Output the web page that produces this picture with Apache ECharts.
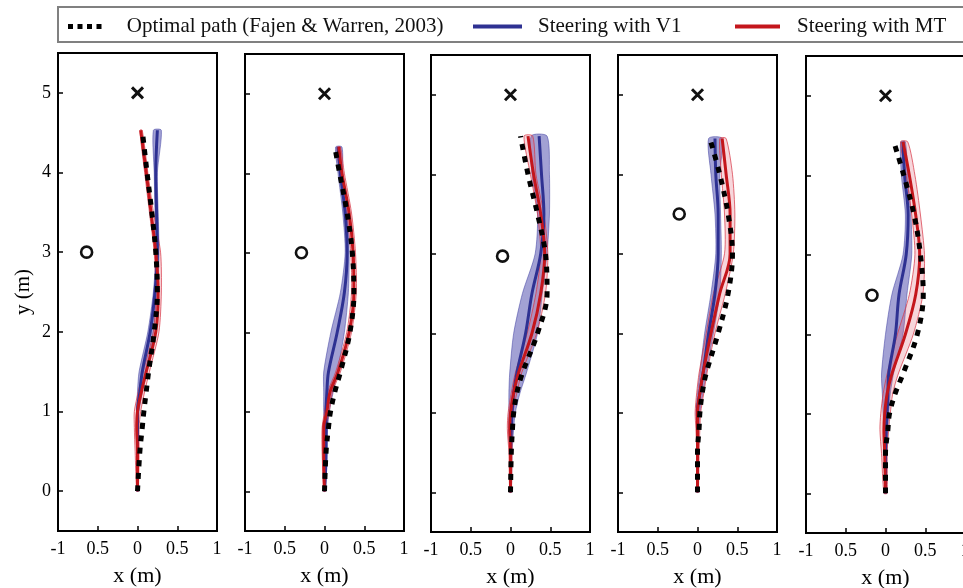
<!DOCTYPE html>
<html>
<head>
<meta charset="utf-8">
<title>Steering trajectories</title>
<script src="https://cdn.jsdelivr.net/npm/echarts@6/dist/echarts.min.js"></script>
<style>
  html, body { margin: 0; padding: 0; background: #fff; }
  #chart { width: 963px; height: 588px; }
</style>
</head>
<body>
<div id="chart"></div>
<script>
// y samples along each trajectory (one row per panel)
const trajY = [
  [0, 0.5, 0.8, 1.0, 1.25, 1.5, 2.0, 2.5, 3.0, 3.5, 4.0, 4.53],
  [0, 0.5, 0.8, 1.0, 1.25, 1.5, 2.0, 2.5, 3.0, 3.5, 4.0, 4.33],
  [0, 0.5, 0.8, 1.0, 1.25, 1.5, 2.0, 2.5, 3.0, 3.5, 4.0, 4.48],
  [0, 0.5, 0.8, 1.0, 1.25, 1.5, 2.0, 2.5, 3.0, 3.5, 4.0, 4.45],
  [0, 0.5, 0.8, 1.0, 1.25, 1.5, 2.0, 2.5, 3.0, 3.5, 4.0, 4.42]
];

const optimalX = [
  [0, 0.03, 0.06, 0.08, 0.11, 0.14, 0.21, 0.25, 0.23, 0.18, 0.12, 0.06],
  [0, 0.02, 0.05, 0.075, 0.13, 0.2, 0.32, 0.37, 0.35, 0.285, 0.19, 0.13],
  [0, 0.01, 0.025, 0.04, 0.08, 0.15, 0.34, 0.46, 0.44, 0.34, 0.22, 0.126],
  [0, 0.0, 0.02, 0.03, 0.06, 0.11, 0.26, 0.385, 0.44, 0.385, 0.28, 0.155],
  [0, 0.0, 0.03, 0.05, 0.12, 0.22, 0.40, 0.475, 0.44, 0.36, 0.23, 0.105]
];

const v1Mean = [
  [0, 0.0, 0.0, 0.0, 0.03, 0.06, 0.16, 0.22, 0.25, 0.24, 0.23, 0.25],
  [0, 0.02, 0.02, 0.02, 0.03, 0.05, 0.16, 0.25, 0.285, 0.26, 0.2, 0.17],
  [0, 0.0, 0.01, 0.02, 0.04, 0.08, 0.19, 0.27, 0.38, 0.42, 0.39, 0.36],
  [0, 0.0, 0.0, 0.0, 0.03, 0.07, 0.14, 0.22, 0.26, 0.26, 0.23, 0.22],
  [0, 0.0, 0.01, 0.02, 0.03, 0.04, 0.125, 0.17, 0.26, 0.285, 0.24, 0.22]
];
const v1Lo = [
  [-0.01, -0.01, -0.01, -0.01, 0.0, 0.02, 0.13, 0.2, 0.23, 0.22, 0.21, 0.2],
  [-0.01, 0.0, 0.0, -0.01, -0.01, -0.01, 0.08, 0.2, 0.26, 0.23, 0.17, 0.14],
  [-0.01, -0.01, -0.02, -0.02, -0.02, -0.01, 0.04, 0.15, 0.31, 0.34, 0.27, 0.26],
  [-0.01, -0.01, -0.01, -0.02, 0.0, 0.03, 0.09, 0.17, 0.23, 0.22, 0.17, 0.14],
  [-0.01, -0.01, -0.02, -0.03, -0.04, -0.05, 0.0, 0.08, 0.22, 0.25, 0.2, 0.19]
];
const v1Hi = [
  [0.01, 0.01, 0.01, 0.02, 0.06, 0.12, 0.2, 0.25, 0.27, 0.26, 0.25, 0.3],
  [0.01, 0.03, 0.04, 0.06, 0.11, 0.16, 0.25, 0.3, 0.31, 0.29, 0.23, 0.22],
  [0.01, 0.02, 0.04, 0.06, 0.12, 0.2, 0.34, 0.4, 0.46, 0.49, 0.49, 0.46],
  [0.01, 0.01, 0.02, 0.03, 0.07, 0.11, 0.2, 0.28, 0.3, 0.29, 0.28, 0.31],
  [0.01, 0.02, 0.03, 0.04, 0.06, 0.1, 0.22, 0.27, 0.33, 0.32, 0.28, 0.25]
];

const mtMean = [
  [0, 0.0, -0.01, 0.0, 0.05, 0.11, 0.23, 0.26, 0.23, 0.17, 0.11, 0.04],
  [0, -0.01, -0.01, 0.03, 0.07, 0.17, 0.31, 0.37, 0.36, 0.31, 0.22, 0.18],
  [0, 0.0, -0.01, 0.0, 0.04, 0.10, 0.27, 0.38, 0.43, 0.38, 0.29, 0.22],
  [0, 0.0, 0.0, 0.0, 0.03, 0.07, 0.17, 0.28, 0.41, 0.41, 0.36, 0.31],
  [0, -0.01, -0.02, -0.01, 0.02, 0.08, 0.25, 0.38, 0.43, 0.38, 0.30, 0.22]
];
const mtLo = [
  [-0.01, -0.03, -0.04, -0.04, 0.01, 0.07, 0.2, 0.23, 0.21, 0.15, 0.09, 0.03],
  [-0.01, -0.03, -0.03, 0.0, 0.04, 0.14, 0.28, 0.34, 0.33, 0.28, 0.19, 0.16],
  [-0.01, -0.02, -0.04, -0.03, 0.01, 0.06, 0.21, 0.32, 0.38, 0.34, 0.25, 0.17],
  [-0.01, -0.01, -0.02, -0.03, -0.01, 0.02, 0.11, 0.2, 0.34, 0.34, 0.3, 0.28],
  [-0.02, -0.05, -0.07, -0.06, -0.03, 0.02, 0.15, 0.3, 0.37, 0.33, 0.26, 0.19]
];
const mtHi = [
  [0.01, 0.02, 0.02, 0.04, 0.09, 0.15, 0.27, 0.3, 0.29, 0.2, 0.13, 0.06],
  [0.01, 0.02, 0.02, 0.06, 0.1, 0.2, 0.34, 0.4, 0.39, 0.34, 0.25, 0.2],
  [0.01, 0.02, 0.02, 0.03, 0.08, 0.14, 0.33, 0.44, 0.47, 0.42, 0.32, 0.28],
  [0.01, 0.02, 0.03, 0.04, 0.08, 0.12, 0.22, 0.35, 0.45, 0.47, 0.44, 0.36],
  [0.02, 0.02, 0.04, 0.06, 0.09, 0.16, 0.35, 0.47, 0.49, 0.44, 0.37, 0.28]
];

// obstacle (circle) and goal (cross) per panel
const obstacleX = [-0.64, -0.29, -0.10, -0.23, -0.17];
const obstacleY = [3.0, 3.0, 2.97, 3.5, 2.49];
const goalX = [0, 0, 0, 0, 0];
const goalY = [5, 5, 5, 5, 5];

const xTickValues = [-1, -0.5, 0, 0.5, 1];
const xTickLabels = ['-1', '0.5', '0', '0.5', '1'];
const yTickValues = [0, 1, 2, 3, 4, 5];

const legendNames = ['Optimal path (Fajen & Warren, 2003)', 'Steering with V1', 'Steering with MT'];

const panelLeft = [58, 245, 431, 618, 806];
const panelTop = [53, 54, 55, 55, 56];
const panelHeight = [478, 477, 477, 477, 477];

const serif = 'Liberation Serif';
const blue = '#2e3192';
const red = '#c4161c';

const chart = echarts.init(document.getElementById('chart'));

function pathSeries(p, xs, name, color, width, type, z) {
  return {
    type: 'line', name: name, xAxisIndex: p, yAxisIndex: p,
    data: xs.map((x, i) => [x, trajY[p][i]]),
    symbol: 'none', smooth: 0.35, silent: true, z: z,
    lineStyle: { color: color, width: width, type: type, cap: 'butt' },
    itemStyle: { color: color }
  };
}

function bandSeries(p, lo, hi, fill, edge, z) {
  const pts = [];
  for (let i = 0; i < lo.length; i++) pts.push([lo[i], trajY[p][i]]);
  for (let i = hi.length - 1; i >= 0; i--) pts.push([hi[i], trajY[p][i]]);
  return {
    type: 'custom', xAxisIndex: p, yAxisIndex: p, data: pts, silent: true, z: z,
    renderItem: function (params, api) {
      if (params.dataIndex !== 0) return null;
      const points = [];
      for (let i = 0; i < params.dataInsideLength; i++) {
        points.push(api.coord([api.value(0, i), api.value(1, i)]));
      }
      return {
        type: 'polygon',
        shape: { points: points, smooth: 0.25 },
        style: { fill: fill, stroke: edge, lineWidth: 1 }
      };
    }
  };
}

const grids = [], xAxes = [], yAxes = [], series = [];
for (let p = 0; p < 5; p++) {
  grids.push({
    left: panelLeft[p], top: panelTop[p], width: 159, height: panelHeight[p],
    outerBoundsMode: 'none', containLabel: false,
    show: true, borderColor: '#000', borderWidth: 2, backgroundColor: 'transparent'
  });
  xAxes.push({
    gridIndex: p, type: 'value', min: -1, max: 1, interval: 0.5,
    name: 'x (m)', nameLocation: 'middle', nameGap: 34,
    nameTextStyle: { fontFamily: serif, fontSize: 22, color: '#000' },
    axisLine: { show: true, onZero: false, lineStyle: { color: '#000', width: 2 } },
    axisTick: { show: true, inside: true, length: 5, lineStyle: { color: '#000', width: 1.5 } },
    axisLabel: {
      fontFamily: serif, fontSize: 18, color: '#000', margin: 9,
      showMinLabel: true, showMaxLabel: true,
      formatter: function (v) {
        const i = xTickValues.findIndex(t => Math.abs(t - v) < 1e-9);
        return i < 0 ? '' : xTickLabels[i];
      }
    },
    splitLine: { show: false }
  });
  yAxes.push({
    gridIndex: p, type: 'value', min: -0.5, max: 5.5,
    name: p === 0 ? 'y (m)' : '', nameLocation: 'middle', nameGap: 24, nameRotate: 90,
    nameTextStyle: { fontFamily: serif, fontSize: 21, color: '#000' },
    axisLine: { show: true, onZero: false, lineStyle: { color: '#000', width: 2 } },
    axisTick: { show: true, inside: true, length: 5, customValues: yTickValues, lineStyle: { color: '#000', width: 1.5 } },
    axisLabel: { show: p === 0, customValues: yTickValues, fontFamily: serif, fontSize: 18, color: '#000', margin: 7 },
    splitLine: { show: false }
  });

  series.push(bandSeries(p, v1Lo[p], v1Hi[p], 'rgba(70,68,170,0.5)', 'rgba(60,60,160,0.5)', 2));
  series.push(bandSeries(p, mtLo[p], mtHi[p], 'rgba(225,90,110,0.25)', 'rgba(215,50,65,0.7)', 3));
  series.push(pathSeries(p, v1Mean[p], legendNames[1], blue, 3, 'solid', 4));
  series.push(pathSeries(p, mtMean[p], legendNames[2], red, 3, 'solid', 5));
  series.push(pathSeries(p, optimalX[p], legendNames[0], '#000', 5, [6, 6.5], 6));

  series.push({
    type: 'scatter', xAxisIndex: p, yAxisIndex: p, silent: true, z: 7,
    data: [[obstacleX[p], obstacleY[p]]],
    symbol: 'circle', symbolSize: 11,
    itemStyle: { color: '#fff', borderColor: '#111', borderWidth: 2.6, opacity: 1 }
  });
  series.push({
    type: 'scatter', xAxisIndex: p, yAxisIndex: p, silent: true, z: 7,
    data: [[goalX[p], goalY[p]]],
    symbol: 'path://M0,0L10,10M10,0L0,10', symbolSize: 11,
    itemStyle: { color: 'none', borderColor: '#111', borderWidth: 3, opacity: 1 }
  });
}

const legendText = { fontFamily: serif, fontSize: 21, color: '#111' };

chart.setOption({
  animation: false,
  backgroundColor: '#fff',
  grid: grids,
  xAxis: xAxes,
  yAxis: yAxes,
  series: series,
  legend: [
    {
      data: [{ name: legendNames[0], icon: 'path://M0,0h5v5h-5zM9.5,0h5v5h-5zM19,0h5v5h-5zM28.5,0h5v5h-5z' }],
      left: 63, top: 11, itemWidth: 34, itemHeight: 5, selectedMode: false,
      textStyle: Object.assign({ padding: [0, 0, 0, 20] }, legendText)
    },
    {
      data: [{ name: legendNames[1], icon: 'rect' }],
      left: 468, top: 11, itemWidth: 49, itemHeight: 4, selectedMode: false,
      textStyle: Object.assign({ padding: [0, 0, 0, 11] }, legendText)
    },
    {
      data: [{ name: legendNames[2], icon: 'rect' }],
      left: 730, top: 11, itemWidth: 45, itemHeight: 4, selectedMode: false,
      textStyle: Object.assign({ padding: [0, 0, 0, 12] }, legendText)
    }
  ],
  graphic: [{
    type: 'rect', silent: true, z: 0,
    shape: { x: 58, y: 7, width: 915, height: 35 },
    style: { fill: 'none', stroke: '#808080', lineWidth: 2 }
  }]
});
</script>
</body>
</html>
